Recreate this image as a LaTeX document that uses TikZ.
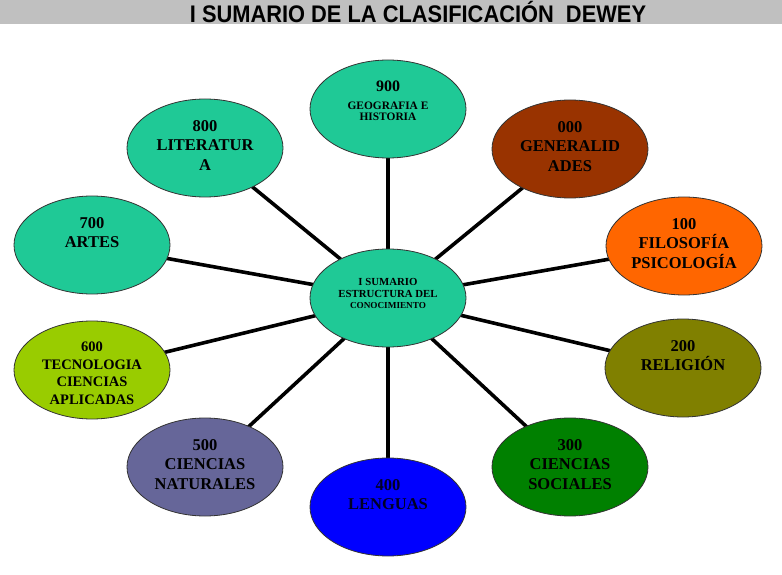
\documentclass[tikz,border=0pt]{standalone}
\usepackage{fontspec}
\setmainfont{Liberation Serif}
\newfontfamily\titlefont{Liberation Sans}
\usetikzlibrary{shapes.geometric,backgrounds,positioning}
\definecolor{barGray}{HTML}{C0C0C0}
\definecolor{deweyTeal}{HTML}{1FC996}
\definecolor{deweyBrown}{HTML}{993300}
\definecolor{deweyOrange}{HTML}{FF6600}
\definecolor{deweyOlive}{HTML}{808000}
\definecolor{deweyGreen}{HTML}{008000}
\definecolor{deweyBlue}{HTML}{0000FF}
\definecolor{deweySlate}{HTML}{666699}
\definecolor{deweyLime}{HTML}{99CC00}

\begin{document}
\begin{tikzpicture}[
      x=1pt,y=1pt,
      topic/.style={ellipse,draw=black!80,line width=0.8pt,
                    minimum width=156pt,minimum height=98pt,inner sep=0pt},
      lbl/.style={anchor=north,align=center,inner sep=0pt,
                  font=\bfseries\fontsize{16.5}{19.5}\selectfont},
      spoke/.style={line width=3.6pt,black},
    ]
    \useasboundingbox (0,0) rectangle (782,574);

    % Title bar
    \fill[barGray] (0,550) rectangle (782,574);
    \node[inner sep=0pt,font=\titlefont\bfseries\fontsize{24}{24}\selectfont]
      (title) at (418,562) {\scalebox{0.91}[1]{I SUMARIO DE LA CLASIFICACIÓN\ \ DEWEY}};

    % Ellipses
    \node[topic,fill=deweyTeal]   (core) at (388,276) {};
    \node[topic,fill=deweyTeal]   (e900) at (388,465) {};
    \node[topic,fill=deweyBrown]  (e000) at (570,425) {};
    \node[topic,fill=deweyOrange] (e100) at (684,328) {};
    \node[topic,fill=deweyOlive]  (e200) at (683,206) {};
    \node[topic,fill=deweyGreen]  (e300) at (570,107) {};
    \node[topic,fill=deweyBlue]   (e400) at (388,67)  {};
    \node[topic,fill=deweySlate]  (e500) at (205,107) {};
    \node[topic,fill=deweyLime]   (e600) at (92,204)  {};
    \node[topic,fill=deweyTeal]   (e700) at (92,329)  {};
    \node[topic,fill=deweyTeal]   (e800) at (205,426) {};

    % Spokes
    \begin{scope}[on background layer]
      \foreach \t in {e900,e000,e100,e200,e300,e400,e500,e600,e700,e800}
        \draw[spoke] (core.center) -- (\t.center);
    \end{scope}

    % Labels
    \node[lbl,font=\bfseries\fontsize{10.8}{11.5}\selectfont] (tcore)
      at ([yshift=19.5pt]core.center)
      {I SUMARIO\\ESTRUCTURA DEL\\{\fontsize{9.2}{11.5}\selectfont CONOCIMIENTO}};
    \node[lbl,font=\bfseries\fontsize{11.4}{11.5}\selectfont] (t900)
      at ([yshift=28pt]e900.center)
      {{\fontsize{16}{19}\selectfont 900}\\[6pt]GEOGRAFIA E\\HISTORIA};
    \node[lbl] (t000) at ([yshift=28pt]e000.center) {000\\GENERALID\\ADES};
    \node[lbl] (t100) at ([yshift=28pt]e100.center) {100\\FILOSOFÍA\\PSICOLOGÍA};
    \node[lbl] (t200) at ([yshift=28pt]e200.center) {200\\RELIGIÓN};
    \node[lbl] (t300) at ([yshift=28pt]e300.center) {300\\CIENCIAS\\SOCIALES};
    \node[lbl,text=black!85!blue] (t400) at ([yshift=28pt]e400.center) {400\\LENGUAS};
    \node[lbl] (t500) at ([yshift=28pt]e500.center) {500\\CIENCIAS\\NATURALES};
    \node[lbl,font=\bfseries\fontsize{14.5}{17.5}\selectfont] (t600)
      at ([yshift=28pt]e600.center) {600\\TECNOLOGIA\\CIENCIAS\\APLICADAS};
    \node[lbl] (t700) at ([yshift=28pt]e700.center) {700\\ARTES};
    \node[lbl] (t800) at ([yshift=28pt]e800.center) {800\\LITERATUR\\A};

  \end{tikzpicture}
\end{document}
